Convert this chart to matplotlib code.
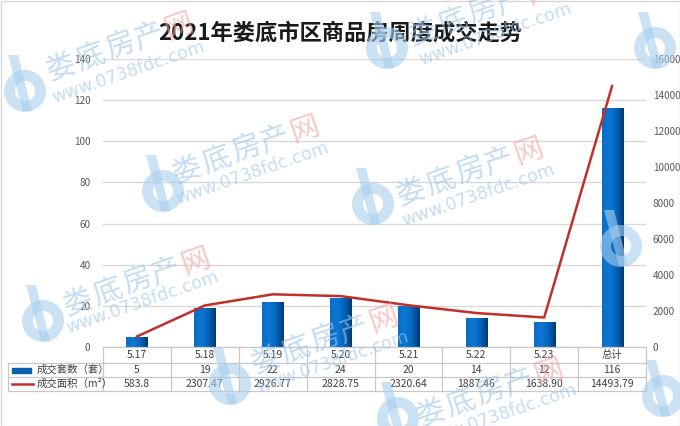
import matplotlib
matplotlib.use("Agg")
import matplotlib.pyplot as plt
import numpy as np
from matplotlib.colors import LinearSegmentedColormap
from matplotlib.patches import Wedge, Polygon

plt.rcParams['font.family'] = ['Noto Sans CJK SC', 'DejaVu Sans']

title = "2021年娄底市区商品房周度成交走势"
categories = ["5.17", "5.18", "5.19", "5.20", "5.21", "5.22", "5.23", "总计"]
units = [5, 19, 22, 24, 20, 14, 12, 116]
area = [583.8, 2307.47, 2926.77, 2828.75, 2320.64, 1887.46, 1638.90, 14493.79]
area_labels = ["583.8", "2307.47", "2926.77", "2828.75", "2320.64", "1887.46", "1638.90", "14493.79"]
row_labels = ["成交套数（套）", "成交面积（m²）"]
wm_text = "娄底房产"
wm_last = "网"
wm_url = "www.0738fdc.com"
# watermark centres (pixels): name text, url text, logo
wm_name_pos = [(120, 47), (246, 150), (482, 12), (470, 172), (137, 282), (325, 340), (490, 393)]
wm_url_pos = [(128, 72), (252, 173), (495, 34), (478, 195), (142, 302), (332, 362), (500, 415)]
wm_logo_pos = [(22, 85), (160, 185), (384, 42), (370, 198), (652, 42), (40, 315), (227, 378),
               (395, 412), (618, 240), (660, 390)]

W, H = 680, 426
fig = plt.figure(figsize=(W / 100, H / 100), dpi=100)
fig.patch.set_facecolor("white")

L, R, T, B = 103, 646, 59, 347
ax = fig.add_axes([L / W, 1 - B / H, (R - L) / W, (B - T) / H])
ax2 = ax.twinx()

n = len(categories)
x = np.arange(n)
ax.set_xlim(-0.5, n - 0.5)
ax.set_ylim(0, 140)
ax.set_yticks(np.arange(0, 141, 20))
ax2.set_ylim(0, 16000)
ax2.set_yticks(np.arange(0, 16001, 2000))

for a in (ax, ax2):
    for s in a.spines.values():
        s.set_visible(False)
    a.tick_params(length=0, labelsize=7.2, labelcolor="#595959")
ax.set_xticks([])
ax.grid(axis="y", color="#d9d9d9", linewidth=1)
ax.set_axisbelow(True)
ax.tick_params(axis="y", pad=9)
ax2.tick_params(axis="y", pad=5)

cmap = LinearSegmentedColormap.from_list("bar", ["#0a6cc4", "#0b78d6", "#0663b8", "#003a73"])
grad = np.linspace(0, 1, 64).reshape(1, -1)
bw = 0.31
bars = ax.bar(x, units, width=bw, color="none", edgecolor="none", zorder=2)
for b in bars:
    x0, y0 = b.get_x(), b.get_y()
    im = ax.imshow(grad, cmap=cmap, aspect="auto", extent=[x0, x0 + b.get_width(), y0, y0 + b.get_height()],
                   zorder=2, interpolation="bicubic")
    im.set_clip_path(b)
ax.set_xlim(-0.5, n - 0.5)
ax.set_ylim(0, 140)

ax2.plot(x, area, color="#c0302a", linewidth=1.8, zorder=3)

fig.text(0.5, 1 - 33 / H, title, ha="center", va="center", fontsize=16, fontweight="bold", color="#1a1a1a")

# overlay in pixel coords
tab = fig.add_axes([0, 0, 1, 1], zorder=5)
tab.set_xlim(0, W)
tab.set_ylim(H, 0)
tab.axis("off")
tab.patch.set_alpha(0)

def col_px(v):
    return L + (v + 0.5) * (R - L) / n

rows_y = [347, 363, 377, 391]
gc = "#c8c8c8"
lw = 0.9
tab.plot([col_px(-0.5), col_px(n - 0.5)], [rows_y[0]] * 2, color=gc, lw=lw)
for yy in rows_y[1:]:
    tab.plot([8, col_px(n - 0.5)], [yy] * 2, color=gc, lw=lw)
for i in range(n + 1):
    tab.plot([col_px(i - 0.5)] * 2, [rows_y[0], rows_y[3]], color=gc, lw=lw)
tab.plot([8, 8], [rows_y[1], rows_y[3]], color=gc, lw=lw)

tc = "#404040"
for i in range(n):
    cx = col_px(i)
    tab.text(cx, (rows_y[0] + rows_y[1]) / 2, categories[i], ha="center", va="center", fontsize=7.5, color=tc)
    tab.text(cx, (rows_y[1] + rows_y[2]) / 2, str(units[i]), ha="center", va="center", fontsize=7.5, color=tc)
    tab.text(cx, (rows_y[2] + rows_y[3]) / 2, area_labels[i], ha="center", va="center", fontsize=7.5, color=tc)

ym1 = (rows_y[1] + rows_y[2]) / 2
ym2 = (rows_y[2] + rows_y[3]) / 2
tab.add_patch(plt.Rectangle((12, ym1 - 2.5), 19, 5, color="#0a5fb0"))
tab.plot([12, 33], [ym2, ym2], color="#c0302a", lw=1.8)
tab.text(37, ym1, row_labels[0], ha="left", va="center", fontsize=7.5, color=tc)
tab.text(37, ym2, row_labels[1], ha="left", va="center", fontsize=7.5, color=tc)

# watermark logos
logo_color = "#a9cfee"
for (lx, ly) in wm_logo_pos:
    tab.add_patch(Wedge((lx + 3, ly + 6), 21, 0, 360, width=11, facecolor=logo_color,
                        edgecolor="none", alpha=0.6, zorder=8))
    tab.add_patch(Polygon([(lx - 14, ly - 30), (lx - 4, ly - 30), (lx + 10, ly + 26), (lx + 1, ly + 26)],
                          closed=True, facecolor=logo_color, edgecolor="none", alpha=0.6, zorder=8))

# watermark text
ang = 19
ca, sa = np.cos(np.radians(ang)), np.sin(np.radians(ang))
step = 31
wm_color = "#9cc6ea"
for (cx, cy), (ux, uy) in zip(wm_name_pos, wm_url_pos):
    for k, ch in enumerate(list(wm_text) + [wm_last]):
        off = (k - 2) * step
        px, py = cx + off * ca, cy - off * sa
        col = "#f4a3a3" if ch == wm_last else wm_color
        tab.text(px, py, ch, ha="center", va="center", fontsize=21, rotation=ang,
                 rotation_mode="anchor", color=col, alpha=0.6, zorder=10)
    tab.text(ux, uy, wm_url, ha="center", va="center", fontsize=12.5, rotation=ang,
             rotation_mode="anchor", color=wm_color, alpha=0.6, zorder=10, family="DejaVu Sans")

tab.add_patch(plt.Rectangle((0.5, 0.5), W - 1, H - 1, fill=False, edgecolor="#d9d9d9", lw=1))

fig.savefig("out.png", dpi=100)
